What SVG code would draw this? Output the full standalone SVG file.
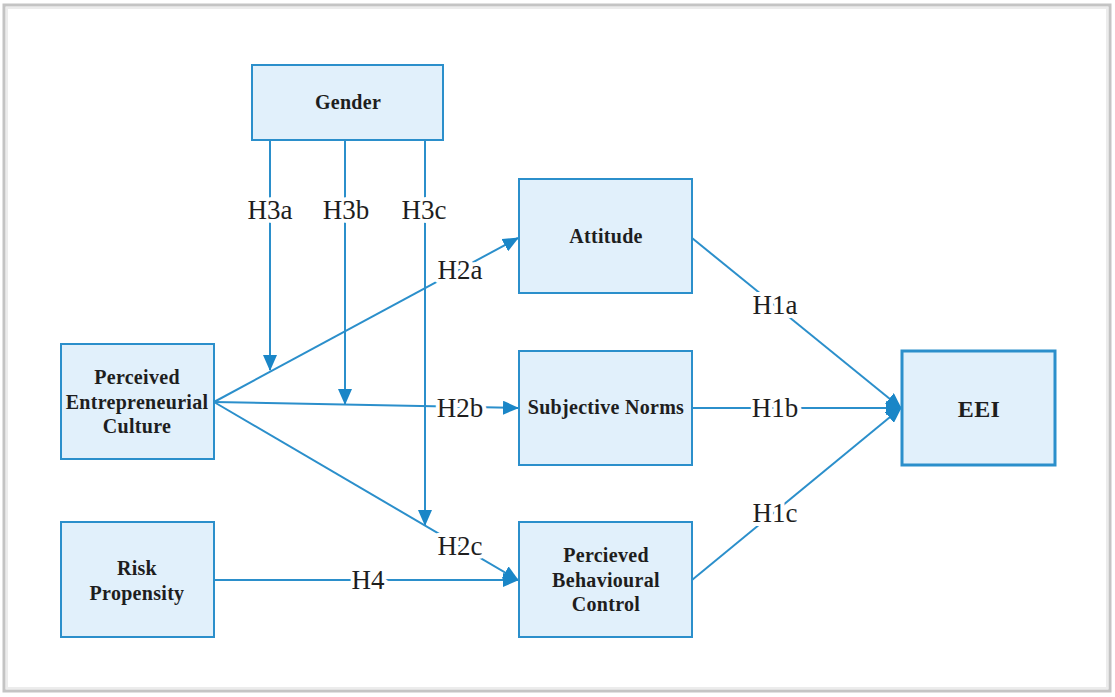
<svg xmlns="http://www.w3.org/2000/svg" width="1115" height="697" viewBox="0 0 1115 697">
  <style>
    .node rect { fill: #e1f0fb; stroke: #2b8fcb; stroke-width: 2; }
    .node text { font-family: "Liberation Serif", "DejaVu Serif", serif; font-weight: bold; font-size: 20px; letter-spacing: 0.3px; fill: #1e1e1e; text-anchor: middle; }
    .edge { stroke: #2b8fcb; stroke-width: 2; fill: none; }
    .lbl { font-family: "Liberation Serif", "DejaVu Serif", serif; font-size: 27px; fill: #1e1e1e; text-anchor: middle; stroke: #ffffff; stroke-width: 8px; paint-order: stroke; stroke-linejoin: round; }
  </style>
  <defs>
    <marker id="arrow" markerUnits="userSpaceOnUse" markerWidth="16" markerHeight="14" refX="15" refY="7" orient="auto">
      <path d="M0,0 L16,7 L0,14 Z" fill="#1a86c7"/>
    </marker>
  </defs>

  <!-- page background and frame -->
  <rect x="0" y="0" width="1115" height="697" fill="#ffffff"/>
  <rect x="4" y="5" width="1106" height="686" fill="none" stroke="#c4c4c4" stroke-width="3"/>
  <rect x="7" y="8" width="1100" height="680" fill="none" stroke="#ececec" stroke-width="2"/>

  <!-- connectors -->
  <g id="connectors">
    <!-- moderation lines from Gender -->
    <line class="edge" x1="270" y1="141" x2="270" y2="370" marker-end="url(#arrow)"/>
    <line class="edge" x1="345" y1="141" x2="345" y2="404" marker-end="url(#arrow)"/>
    <line class="edge" x1="425" y1="141" x2="425" y2="525" marker-end="url(#arrow)"/>
    <!-- PEC to mediators -->
    <line class="edge" x1="214" y1="402" x2="518" y2="238" marker-end="url(#arrow)"/>
    <line class="edge" x1="214" y1="402" x2="518" y2="408" marker-end="url(#arrow)"/>
    <line class="edge" x1="214" y1="402" x2="518" y2="580" marker-end="url(#arrow)"/>
    <!-- Risk Propensity to PBC -->
    <line class="edge" x1="214" y1="580" x2="518" y2="580" marker-end="url(#arrow)"/>
    <!-- mediators to EEI -->
    <line class="edge" x1="692" y1="238" x2="901" y2="408" marker-end="url(#arrow)"/>
    <line class="edge" x1="692" y1="408" x2="901" y2="408" marker-end="url(#arrow)"/>
    <line class="edge" x1="692" y1="580" x2="901" y2="408" marker-end="url(#arrow)"/>

    <!-- path labels -->
    <text class="lbl" x="270" y="219">H3a</text>
    <text class="lbl" x="346" y="219">H3b</text>
    <text class="lbl" x="424" y="219">H3c</text>
    <text class="lbl" x="460" y="279">H2a</text>
    <text class="lbl" x="460" y="417">H2b</text>
    <text class="lbl" x="460" y="555">H2c</text>
    <text class="lbl" x="368" y="589">H4</text>
    <text class="lbl" x="775" y="314">H1a</text>
    <text class="lbl" x="775" y="417">H1b</text>
    <text class="lbl" x="775" y="522">H1c</text>
  </g>

  <!-- nodes -->
  <g id="gender" class="node">
    <rect x="252" y="65" width="191" height="75"/>
    <text x="348" y="109">Gender</text>
  </g>
  <g id="attitude" class="node">
    <rect x="519" y="179" width="173" height="114"/>
    <text x="606" y="243">Attitude</text>
  </g>
  <g id="subjective-norms" class="node">
    <rect x="519" y="351" width="173" height="114"/>
    <text x="606" y="414">Subjective Norms</text>
  </g>
  <g id="pbc" class="node">
    <rect x="519" y="522" width="173" height="115"/>
    <text x="606" y="562">Percieved</text>
    <text x="606" y="587">Behavioural</text>
    <text x="606" y="611">Control</text>
  </g>
  <g id="pec" class="node">
    <rect x="61" y="344" width="153" height="115"/>
    <text x="137" y="384">Perceived</text>
    <text x="137" y="409">Entrepreneurial</text>
    <text x="137" y="433">Culture</text>
  </g>
  <g id="risk" class="node">
    <rect x="61" y="522" width="153" height="115"/>
    <text x="137" y="575">Risk</text>
    <text x="137" y="600">Propensity</text>
  </g>
  <g id="eei" class="node">
    <rect x="902" y="351" width="153" height="114" style="stroke-width:3"/>
    <text x="979" y="417" style="font-size:24px">EEI</text>
  </g>
</svg>
